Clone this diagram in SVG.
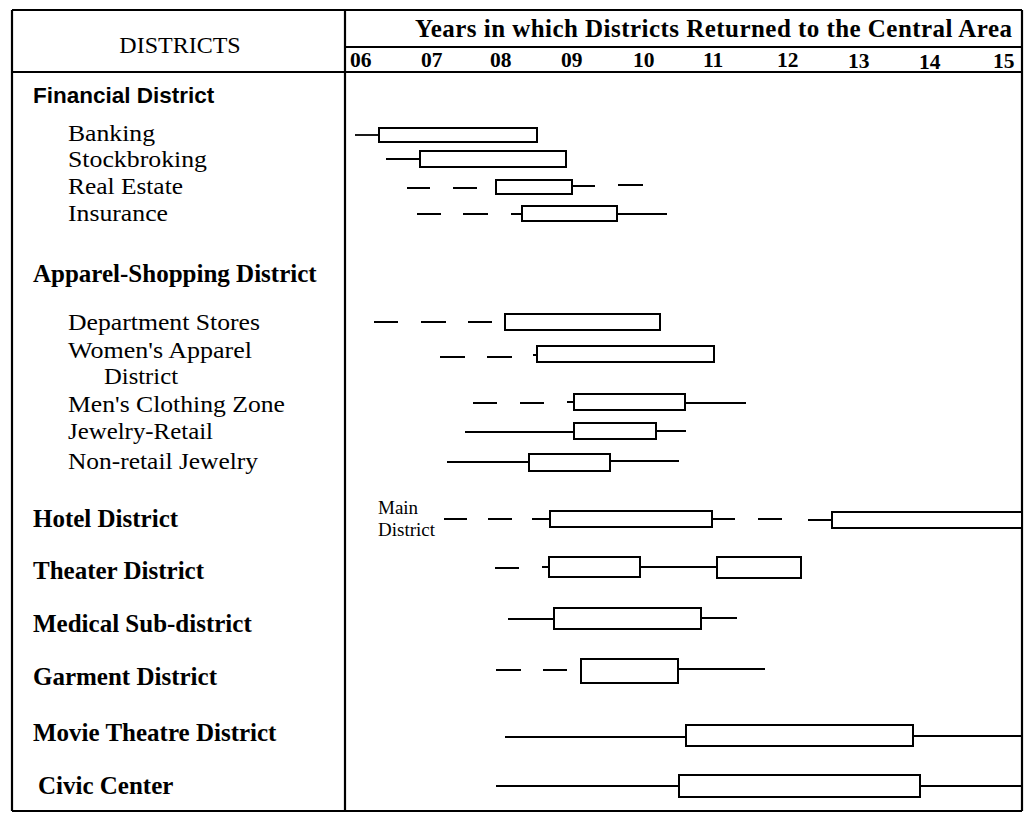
<svg xmlns="http://www.w3.org/2000/svg" width="1026" height="815" viewBox="0 0 1026 815">
<style>
.frame{stroke:#000;stroke-width:2.2;fill:none}
.box{fill:#fff;stroke:#000;stroke-width:2}
.ln{stroke:#000;stroke-width:1.8;fill:none}
.sub{font-family:"Liberation Serif","Times New Roman",serif;font-size:23px;fill:#000}
.bold{font-family:"Liberation Serif","Times New Roman",serif;font-size:25px;font-weight:bold;fill:#000}
.sans{font-family:"Liberation Sans",Arial,sans-serif;font-size:22.5px;font-weight:bold;fill:#000}
.yr{font-family:"Liberation Serif","Times New Roman",serif;font-size:21.5px;font-weight:bold;fill:#000}
.hdr{font-family:"Liberation Serif","Times New Roman",serif;font-size:24px;fill:#000}
.title{font-family:"Liberation Serif","Times New Roman",serif;font-size:25px;font-weight:bold;fill:#000}
.note{font-family:"Liberation Serif","Times New Roman",serif;font-size:19px;fill:#000}
</style>
<rect width="1026" height="815" fill="#fff"/>
<g id="frame">
<path class="frame" d="M12 10H1022M12 10V811M345 10V811M1022 10V811M12 811H1022M345 47H1022M12 72H1022"/>
</g>
<g id="header">
<text class="hdr" x="180" y="53" text-anchor="middle">DISTRICTS</text>
<text class="title" x="415" y="37" textLength="597" lengthAdjust="spacing">Years in which Districts Returned to the Central Area</text>
<g class="yr">
<text x="350" y="67">06</text><text x="421" y="67">07</text><text x="490" y="67">08</text><text x="561" y="67">09</text><text x="633" y="67">10</text><text x="703" y="67">11</text><text x="777" y="67">12</text><text x="848" y="68">13</text><text x="919" y="69">14</text><text x="993" y="68">15</text>
</g>
</g>
<g id="labels">
<text id="financial" class="sans" x="33" y="103">Financial District</text>
<text class="sub" x="68" y="141" textLength="87" lengthAdjust="spacingAndGlyphs">Banking</text>
<text class="sub" x="68" y="167" textLength="139" lengthAdjust="spacingAndGlyphs">Stockbroking</text>
<text class="sub" x="68" y="194" textLength="115" lengthAdjust="spacingAndGlyphs">Real Estate</text>
<text class="sub" x="68" y="221" textLength="100" lengthAdjust="spacingAndGlyphs">Insurance</text>
<text id="apparel" class="bold" x="33" y="282">Apparel-Shopping District</text>
<text class="sub" x="68" y="330" textLength="192" lengthAdjust="spacingAndGlyphs">Department Stores</text>
<text class="sub" x="68" y="358" textLength="184" lengthAdjust="spacingAndGlyphs">Women's Apparel</text>
<text class="sub" x="104" y="384" textLength="74" lengthAdjust="spacingAndGlyphs">District</text>
<text class="sub" x="68" y="412" textLength="217" lengthAdjust="spacingAndGlyphs">Men's Clothing Zone</text>
<text class="sub" x="68" y="439" textLength="145" lengthAdjust="spacingAndGlyphs">Jewelry-Retail</text>
<text class="sub" x="68" y="469" textLength="190" lengthAdjust="spacingAndGlyphs">Non-retail Jewelry</text>
<text id="hotel" class="bold" x="33" y="527">Hotel District</text>
<text id="theater" class="bold" x="33" y="579">Theater District</text>
<text id="medical" class="bold" x="33" y="632">Medical Sub-district</text>
<text id="garment" class="bold" x="33" y="685">Garment District</text>
<text id="movie" class="bold" x="33" y="741">Movie Theatre District</text>
<text id="civic" class="bold" x="38" y="794">Civic Center</text>
<text class="note" x="378" y="514">Main</text>
<text class="note" x="378" y="536">District</text>
</g>
<g id="connectors">
<path class="ln" d="M355 135H379"/>
<path class="ln" d="M386 159H420"/>
<path class="ln" d="M407 188H430M453 188H477M572 186H595M618 185H643"/>
<path class="ln" d="M417 214H441M463 214H488M511 214H522M617 214H667"/>
<path class="ln" d="M374 322H398M421 322H446M468 322H492"/>
<path class="ln" d="M440 357H465M487 357H512M533 355H538"/>
<path class="ln" d="M473 403H497M520 403H544M567 402H574M685 403H746"/>
<path class="ln" d="M465 432H574M656 431H686"/>
<path class="ln" d="M447 462H529M610 461H679"/>
<path class="ln" d="M444 519H467M488 519H512M532 519H550M712 519H735M758 519H782M808 520H832"/>
<path class="ln" d="M495 568H519M542 567H549M640 567H717"/>
<path class="ln" d="M508 619H554M701 618H737"/>
<path class="ln" d="M496 670H521M543 670H567M678 669H765"/>
<path class="ln" d="M505 737H686M913 736H1022"/>
<path class="ln" d="M496 786H679M920 786H1022"/>
</g>
<g id="bars">
<rect id="bar-banking" class="box" x="379" y="128" width="158" height="14"/>
<rect id="bar-stockbroking" class="box" x="420" y="151" width="146" height="16"/>
<rect id="bar-realestate" class="box" x="496" y="180" width="76" height="14"/>
<rect id="bar-insurance" class="box" x="522" y="206" width="95" height="15"/>
<rect id="bar-dept" class="box" x="505" y="314" width="155" height="16"/>
<rect id="bar-women" class="box" x="537" y="346" width="177" height="16"/>
<rect id="bar-men" class="box" x="574" y="394" width="111" height="16"/>
<rect id="bar-jewelry" class="box" x="574" y="423" width="82" height="16"/>
<rect id="bar-nonretail" class="box" x="529" y="454" width="81" height="17"/>
<rect id="bar-hotel-1" class="box" x="550" y="511" width="162" height="16"/>
<rect id="bar-hotel-2" class="box" x="832" y="512" width="190" height="16"/>
<rect id="bar-theater-1" class="box" x="549" y="557" width="91" height="20"/>
<rect id="bar-theater-2" class="box" x="717" y="557" width="84" height="21"/>
<rect id="bar-medical" class="box" x="554" y="608" width="147" height="21"/>
<rect id="bar-garment" class="box" x="581" y="659" width="97" height="24"/>
<rect id="bar-movie" class="box" x="686" y="725" width="227" height="21"/>
<rect id="bar-civic" class="box" x="679" y="775" width="241" height="22"/>
</g>
</svg>
